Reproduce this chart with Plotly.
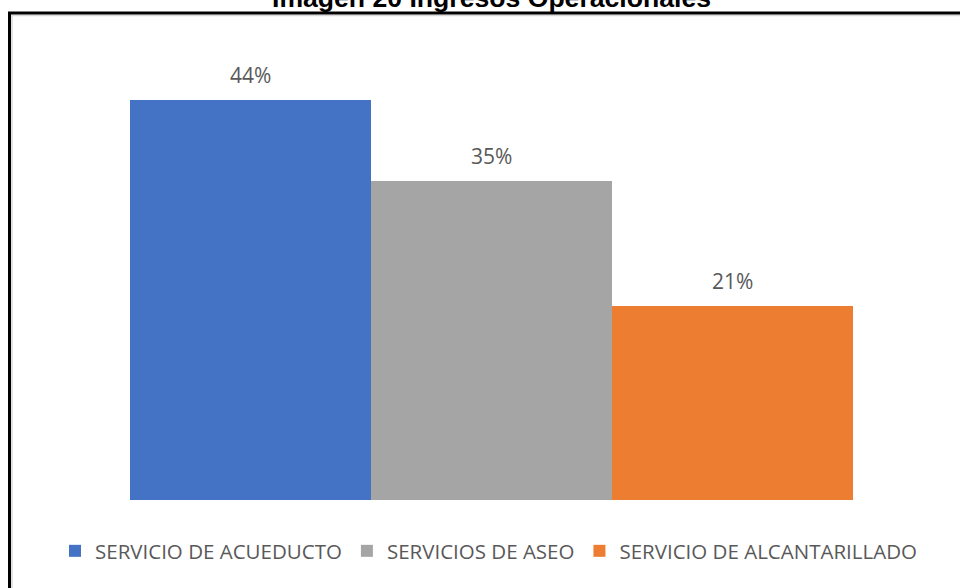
import plotly.graph_objects as go

# ---- data ----
series_names = ["SERVICIO DE ACUEDUCTO", "SERVICIOS DE ASEO", "SERVICIO DE ALCANTARILLADO"]
series_values = [44.0, 35.1, 21.3]
series_colors = ["#4472C4", "#A5A5A5", "#ED7D31"]
title_text = "Imagen 20 Ingresos Operacionales"

W, H = 960, 588
L, R = 10, 10
T, B = 100, H - 500
pw, ph = W - L - R, H - T - B

# bars span page pixels 130..853 (3 category units)
bar_left, bar_right = 130, 853
unit = (bar_right - bar_left) / 3.0
x_range = [-0.5 - (bar_left - L) / unit, 2.5 + ((W - R) - bar_right) / unit]


def px_x(p):
    return (p - L) / pw


def px_y(p):
    return (H - B - p) / ph


fig = go.Figure()
for i, (name, val, col) in enumerate(zip(series_names, series_values, series_colors)):
    fig.add_trace(go.Bar(
        x=[i], y=[val], name=name, width=1.0,
        marker=dict(color=col, line=dict(width=0)),
        hoverinfo="skip",
    ))
    fig.add_annotation(
        x=i, y=val, xref="x", yref="y",
        text=f"{val:.0f}%", showarrow=False,
        yanchor="middle", yshift=25,
        font=dict(family="Open Sans", size=21, color="#595959"),
    )

# title (clipped at top as in reference)
fig.add_annotation(
    x=px_x(491), y=px_y(-2), xref="paper", yref="paper",
    text=f"<b>{title_text}</b>", showarrow=False,
    xanchor="center", yanchor="middle",
    font=dict(family="Liberation Sans", size=26.6, color="#000000"),
)

# outer frame (extends beyond right/bottom edges)
fig.add_shape(type="rect", xref="paper", yref="paper",
              x0=px_x(12), x1=px_x(990), y0=px_y(620), y1=px_y(15.5),
              line=dict(color="#D9D9D9", width=1.5), layer="below")
fig.add_shape(type="rect", xref="paper", yref="paper",
              x0=px_x(9.5), x1=px_x(990), y0=px_y(620), y1=px_y(13),
              line=dict(color="#000000", width=3), layer="above")

fig.update_layout(
    width=W, height=H,
    margin=dict(l=L, r=R, t=T, b=B, pad=0),
    paper_bgcolor="white", plot_bgcolor="white",
    barmode="overlay", bargap=0,
    xaxis=dict(visible=False, range=x_range),
    yaxis=dict(visible=False, range=[0, 44.0]),
    showlegend=True,
    legend=dict(
        orientation="h", x=px_x(488.5), xanchor="center",
        y=px_y(551), yanchor="middle",
        font=dict(family="Open Sans", size=20.5, color="#595959"),
        traceorder="normal", itemclick=False, itemdoubleclick=False,
    ),
)

fig.write_html(
    "out.html",
    config={"displayModeBar": False, "staticPlot": True},
    post_script="document.body.style.margin='0px';document.body.style.overflow='hidden';",
)
